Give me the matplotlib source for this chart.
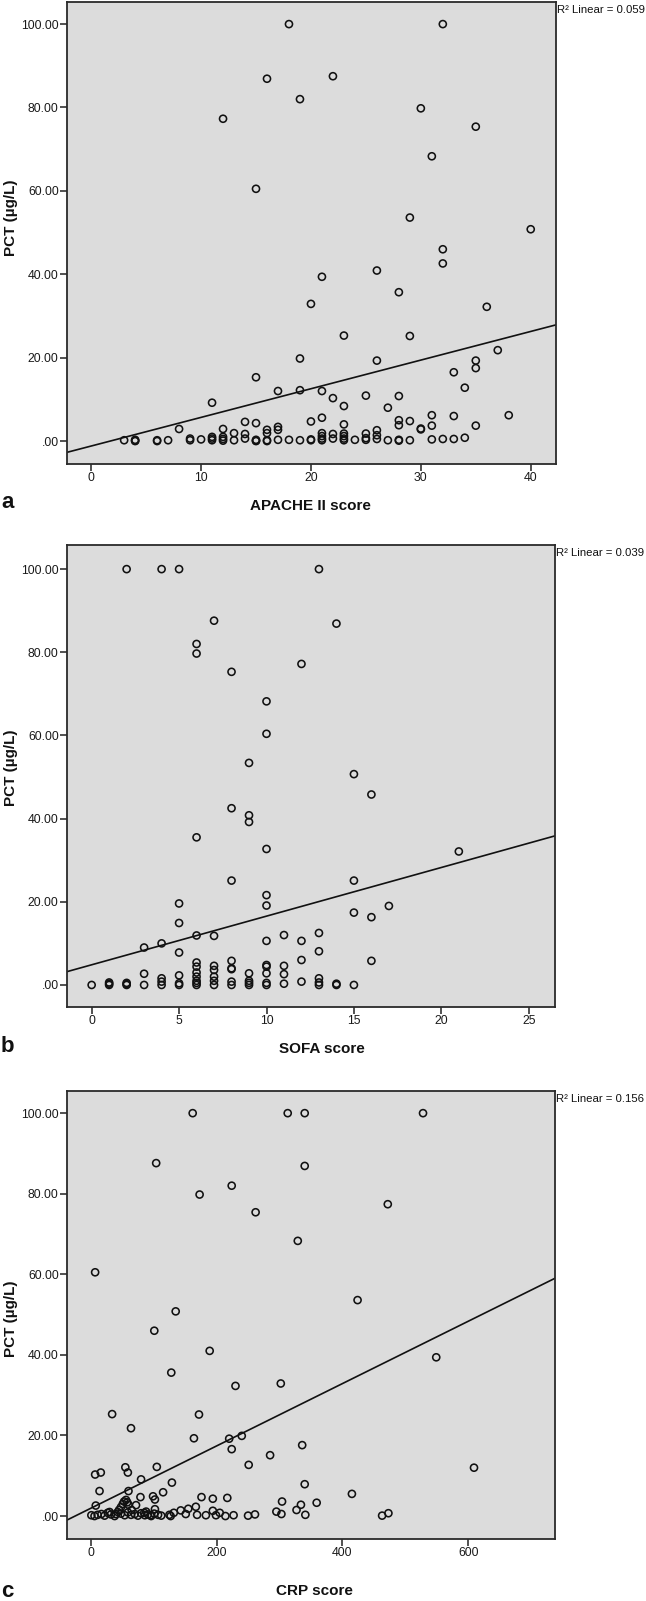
"""
PCT vs severity scores (APACHE II, SOFA, CRP) with linear fits
"""
import numpy as np
import matplotlib
matplotlib.use('Agg')
import matplotlib.pyplot as plt

# ---- panel a: APACHE II score vs PCT ----
apache_x = [18, 32, 16, 22, 19, 30, 12, 35, 31, 15, 29, 40, 32, 32, 26, 21, 28, 20, 36,
            23, 29, 37, 19, 26, 35, 35, 33, 15, 34, 17, 19, 21, 25, 28, 22, 11, 23, 27,
            31, 33, 38, 21, 20, 28, 29, 14, 15, 23, 28, 31, 35, 17, 30, 30, 8, 12, 16,
            17, 26, 16, 13, 21, 14, 22, 23, 25, 26, 21, 23,
            3, 4, 4, 4, 6, 6, 7, 9, 9, 10, 11, 11, 11, 12, 12, 12, 13, 14, 15, 15, 15,
            16, 16, 17, 18, 19, 20, 20, 21, 21, 22, 23, 23, 24, 25, 25, 26, 27, 28, 28,
            29, 31, 32, 33, 34]
apache_y = [100, 100, 86.9, 87.5, 82.0, 79.8, 77.3, 75.4, 68.3, 60.5, 53.6, 50.8, 46.0,
            42.6, 40.9, 39.4, 35.7, 32.9, 32.2, 25.3, 25.2, 21.8, 19.8, 19.3, 19.3, 17.5,
            16.5, 15.3, 12.8, 12.0, 12.2, 12.0, 10.9, 10.8, 10.3, 9.2, 8.4, 8.0, 6.2, 6.0,
            6.2, 5.6, 4.7, 5.0, 4.8, 4.6, 4.3, 4.0, 3.8, 3.7, 3.7, 3.4, 3.0, 2.8, 2.9, 2.9,
            2.7, 2.7, 2.6, 1.9, 1.9, 1.9, 1.7, 1.7, 1.8, 1.8, 1.4, 1.2, 1.2,
            0.2, 0.0, 0.3, 0.1, 0.2, 0.0, 0.2, 0.2, 0.6, 0.4, 0.2, 0.6, 1.0, 0.1, 0.5, 1.0,
            0.2, 0.6, 0.1, 0.3, 0.0, 0.2, 0.0, 0.3, 0.3, 0.2, 0.2, 0.4, 0.2, 0.6, 0.6, 0.2,
            0.6, 0.3, 0.3, 0.7, 0.5, 0.2, 0.1, 0.3, 0.2, 0.4, 0.5, 0.5, 0.8]

# ---- panel b: SOFA score vs PCT ----
sofa_x = [2, 4, 5, 13, 7, 14, 6, 6, 12, 8, 10, 10, 9, 15, 16, 8, 9, 9, 6, 10, 21, 8, 15,
          10, 10, 5, 17, 15, 16, 5, 13, 6, 7, 11, 10, 12, 4, 3, 13, 5, 12, 16,
          0, 1, 1, 1, 2, 2, 2, 3, 3, 4, 4, 4, 5, 5, 5, 6, 6, 6, 6, 6, 6, 6,
          7, 7, 7, 7, 7, 8, 8, 8, 8, 8, 9, 9, 9, 9, 10, 10, 10, 10, 10,
          11, 11, 11, 12, 13, 13, 13, 14, 14, 15]
sofa_y = [100, 100, 100, 100, 87.6, 86.9, 82.0, 79.7, 77.2, 75.3, 68.2, 60.4, 53.4, 50.7,
          45.8, 42.5, 40.8, 39.2, 35.5, 32.7, 32.1, 25.1, 25.1, 21.6, 19.1, 19.6, 19.0,
          17.4, 16.3, 14.9, 12.5, 11.9, 11.8, 12.0, 10.6, 10.6, 10.0, 9.0, 8.1, 7.8, 6.0,
          5.8,
          0, 0, 0.3, 0.6, 0, 0.2, 0.5, 0, 2.7, 0, 0.8, 1.6, 0, 0.4, 2.3, 0, 0.5, 1.0,
          2.0, 3.0, 4.4, 5.4, 0, 1.0, 2.0, 3.6, 4.6, 0, 0.8, 3.8, 4.0, 5.8, 0, 0.5, 1.0,
          2.8, 0, 0.5, 2.8, 4.4, 4.8, 0.3, 2.6, 4.6, 0.8, 0, 0.6, 1.6, 0, 0.3, 0]

# ---- panel c: CRP vs PCT ----
crp_x = [162, 313, 340, 528, 104, 340, 224, 173, 472, 262, 329, 7, 424, 135, 101, 189, 549,
         128, 230, 302, 34, 172, 64, 164, 220, 240, 224, 336, 285, 251, 105, 55, 609, 59,
         7, 16, 80, 129, 340, 14, 60, 115, 415, 79, 99, 102, 176, 194, 217, 304, 359, 334,
         8, 327, 341, 295, 303, 261, 250, 143, 155, 167, 194, 205, 151, 169, 183, 199,
         214, 227, 127, 463, 473,
         51, 53, 56, 58, 60, 48, 45, 72, 88, 102,
         1, 6, 11, 17, 22, 27, 32, 38, 43, 48, 54, 59, 64, 70, 75, 80, 86, 91, 96, 101,
         107, 112, 30, 40, 65, 85, 95, 125, 132]
crp_y = [100, 100, 100, 100, 87.6, 86.9, 82.0, 79.8, 77.4, 75.4, 68.3, 60.5, 53.6, 50.8,
         46.0, 41.0, 39.4, 35.6, 32.3, 32.9, 25.3, 25.2, 21.8, 19.3, 19.2, 19.9, 16.6,
         17.6, 15.1, 12.7, 12.2, 12.1, 12.0, 10.8, 10.3, 10.8, 9.1, 8.3, 7.9, 6.2, 6.2,
         5.9, 5.5, 4.7, 4.9, 4.1, 4.7, 4.3, 4.5, 3.6, 3.3, 2.8, 2.6, 1.5, 0.3, 1.1, 0.5,
         0.4, 0.1, 1.4, 1.8, 2.3, 1.3, 0.8, 0.5, 0.3, 0.2, 0.2, 0.0, 0.2, 0.0, 0.1, 0.7,
         3.0, 3.6, 4.0, 3.4, 2.8, 2.2, 1.5, 2.7, 1.1, 1.7,
         0.2, 0.0, 0.3, 0.5, 0.1, 0.8, 0.4, 0.0, 1.0, 0.6, 0.2, 0.9, 0.3, 0.5, 0.1, 0.7,
         0.2, 0.4, 0.0, 0.6, 0.3, 0.1, 1.0, 0.5, 1.5, 0.8, 0.2, 0.3, 0.8]

# linear fits as drawn in the figure (intercept, slope) and R^2 values
fit_a = (-1.19, 0.687)
fit_b = (4.85, 1.17)
fit_c = (1.92, 0.0774)
r2_labels = ['R\u00b2 Linear = 0.059', 'R\u00b2 Linear = 0.039', 'R\u00b2 Linear = 0.156']

xlabels = ['APACHE II score', 'SOFA score', 'CRP score']
panel_letters = ['a', 'b', 'c']
ytick_vals = [0, 20, 40, 60, 80, 100]
ytick_labels = ['.00', '20.00', '40.00', '60.00', '80.00', '100.00']

W, H = 646, 1601
fig = plt.figure(figsize=(W / 100, H / 100), dpi=100)

tick_font = {'family': 'Liberation Sans', 'size': 8.8, 'color': '#1a1a1a'}
label_font = {'family': 'Liberation Sans', 'weight': 'bold', 'size': 11, 'color': '#111111'}


def px_axes(left, top, right, bottom):
    return fig.add_axes([left / W, 1 - bottom / H, (right - left) / W, (bottom - top) / H])


def plot_one(box, xs, ys, fit, xlim, ylim, xticks, r2txt):
    ax = px_axes(*box)
    ax.set_facecolor('#dcdcdc')
    ax.scatter(xs, ys, s=26, facecolors='none', edgecolors='#111111', linewidths=1.15,
               zorder=3, clip_on=False)
    xx = np.array(xlim)
    ax.plot(xx, fit[0] + fit[1] * xx, color='#111111', lw=1.2, zorder=2)
    ax.set_xlim(xlim)
    ax.set_ylim(ylim)
    ax.set_xticks(xticks)
    ax.set_xticklabels([str(t) for t in xticks], fontdict=tick_font)
    ax.set_yticks(ytick_vals)
    ax.set_yticklabels(ytick_labels, fontdict=tick_font)
    ax.tick_params(direction='out', length=5, width=1.1, color='#222222', pad=1)
    for sp in ax.spines.values():
        sp.set_linewidth(1.3)
        sp.set_color('#2a2a2a')
    fig.text(box[2] / W + 0.001, 1 - (box[1] + 3) / H, r2txt, ha='left', va='top',
             family='Liberation Sans', size=8.2, color='#111111')
    return ax


plot_one((67, 2, 556, 464), apache_x, apache_y, fit_a, (-2.2, 42.3), (-5.5, 105.3),
         [0, 10, 20, 30, 40], r2_labels[0])
plot_one((67, 545, 555, 1007), sofa_x, sofa_y, fit_b, (-1.41, 26.5), (-5.3, 105.8),
         [0, 5, 10, 15, 20, 25], r2_labels[1])
plot_one((67, 1091, 555, 1539), crp_x, crp_y, fit_c, (-37.7, 737.7), (-5.7, 105.5),
         [0, 200, 400, 600], r2_labels[2])

# axis titles and panel letters, placed in pixel coords
xlab_pos = [(310, 510), (322, 1053), (314, 1595)]
ylab_pos = [(11, 218), (11, 768), (11, 1319)]
letter_pos = [(1, 508), (1, 1052), (1, 1597)]
for i in range(3):
    fig.text(xlab_pos[i][0] / W, 1 - xlab_pos[i][1] / H, xlabels[i], ha='center',
             va='baseline', **label_font)
    fig.text(ylab_pos[i][0] / W, 1 - ylab_pos[i][1] / H, 'PCT (\u00b5g/L)', ha='center',
             va='center', rotation=90, **label_font)
    fig.text(letter_pos[i][0] / W, 1 - letter_pos[i][1] / H, panel_letters[i], ha='left',
             va='baseline', family='Liberation Sans', weight='bold', size=16,
             color='#111111')

fig.savefig('out.png', dpi=100)
